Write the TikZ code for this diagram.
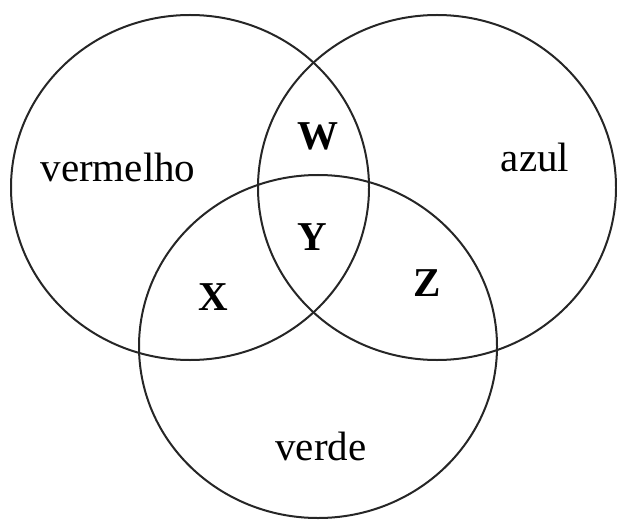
\documentclass[tikz,border=0pt]{standalone}
\usepackage{fontspec}
\setmainfont{Liberation Serif}
\begin{document}
\begin{tikzpicture}[x=1pt,y=-1pt,
  setline/.style={line width=2pt, draw=black!85},
  lbl/.style={anchor=base, inner sep=0pt, font=\fontsize{41}{48}\selectfont},
  blbl/.style={anchor=base, inner sep=0pt, font=\fontsize{41}{48}\selectfont\bfseries}]
\useasboundingbox (0,0) rectangle (617,521);
\draw[setline] (190,187.5) ellipse [x radius=179, y radius=172.5];
\draw[setline] (437,187.5) ellipse [x radius=179, y radius=172.5];
\draw[setline] (318,346.5) ellipse [x radius=179, y radius=171.5];
\node[lbl] (vermelho) at (118,182) {vermelho};
\node[lbl] (azul) at (535,172) {azul};
\node[lbl] (verde) at (321,460) {verde};
\node[blbl] (W) at (318,150) {W};
\node[blbl] (Y) at (312,250) {Y};
\node[blbl] (X) at (213,310) {X};
\node[blbl] (Z) at (427,296) {Z};
\end{tikzpicture}
\end{document}
